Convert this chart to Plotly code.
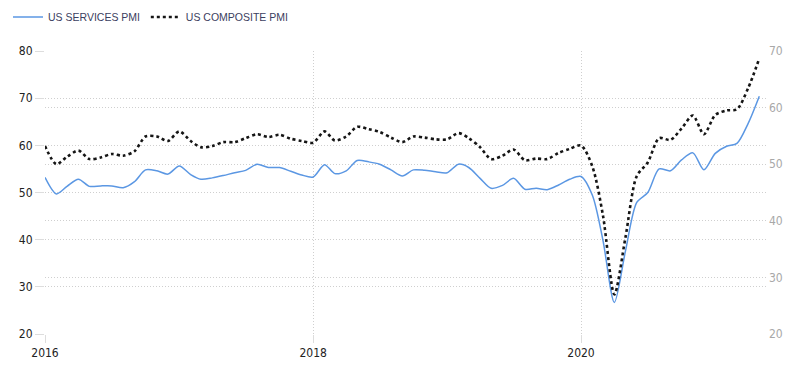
import plotly.graph_objects as go
import pandas as pd

dates = pd.date_range("2016-01-01", "2021-05-01", freq="MS")

services = [
    53.2, 49.7, 51.3, 52.8, 51.3, 51.4, 51.4, 51.0, 52.3, 54.8, 54.6, 53.9,
    55.6, 53.8, 52.8, 53.1, 53.6, 54.2, 54.7, 56.0, 55.3, 55.3, 54.5, 53.7,
    53.3, 55.9, 54.0, 54.6, 56.8, 56.5, 56.0, 54.8, 53.5, 54.8, 54.7, 54.4,
    54.2, 56.0, 55.3, 53.0, 50.9, 51.5, 53.0, 50.7, 50.9, 50.6, 51.6, 52.8,
    53.4, 49.4, 39.8, 26.7, 37.5, 47.9, 50.0, 55.0, 54.6, 56.9, 58.4, 54.8,
    58.3, 59.8, 60.4, 64.7, 70.4,
]

composite = [
    53.2, 50.0, 51.3, 52.4, 50.9, 51.2, 51.8, 51.5, 52.3, 54.9, 54.9, 54.1,
    55.8, 54.1, 53.0, 53.2, 53.9, 53.9, 54.6, 55.3, 54.8, 55.2, 54.5, 54.1,
    53.8, 55.8, 54.2, 54.9, 56.6, 56.2, 55.7, 54.7, 53.9, 54.9, 54.7, 54.4,
    54.4, 55.5, 54.6, 53.0, 50.9, 51.5, 52.6, 50.7, 51.0, 50.9, 52.0, 52.7,
    53.3, 49.6, 40.9, 27.0, 37.0, 47.9, 50.3, 54.6, 54.3, 56.3, 58.6, 55.3,
    58.7, 59.5, 59.7, 63.5, 68.7,
]

left_ticks = [20, 30, 40, 50, 60, 70, 80]
right_ticks = [20, 30, 40, 50, 60, 70]

font_main = "Liberation Sans Narrow, DejaVu Sans Condensed, Arial Narrow, Liberation Sans, sans-serif"
grid = dict(showgrid=True, gridcolor="#cfcfcf", griddash="1px,2px", gridwidth=1)
legend_font = dict(size=10.5, color="#3b4060", family="Liberation Sans, Arial, sans-serif")

fig = go.Figure()
fig.add_trace(go.Scatter(
    x=dates, y=services, name="US SERVICES PMI", mode="lines",
    line=dict(color="#5b97e3", width=1.5, shape="spline", smoothing=0.8),
    yaxis="y", legend="legend",
))
fig.add_trace(go.Scatter(
    x=dates, y=composite, name="US COMPOSITE PMI", mode="lines",
    line=dict(color="#151515", width=2.6, dash="dot", shape="spline", smoothing=0.8),
    yaxis="y2", legend="legend2",
))

fig.update_layout(
    width=792, height=361,
    margin=dict(l=37, r=33, t=43, b=35, autoexpand=False),
    paper_bgcolor="white", plot_bgcolor="white",
    showlegend=True,
    legend=dict(
        orientation="h", xref="container", yref="container",
        x=-0.011, y=0.975, xanchor="left", yanchor="middle",
        font=legend_font, itemwidth=30, bgcolor="rgba(0,0,0,0)",
    ),
    legend2=dict(
        orientation="h", xref="container", yref="container",
        x=0.174, y=0.975, xanchor="left", yanchor="middle",
        font=legend_font, itemwidth=30, bgcolor="rgba(0,0,0,0)",
    ),
    xaxis=dict(
        type="date", automargin=False,
        range=["2016-01-01", "2021-05-22"],
        dtick="M24", tick0="2016-01-01", tickformat="%Y",
        zeroline=False, showline=False,
        ticks="outside", ticklen=8, tickcolor="#dddddd",
        tickfont=dict(size=12, color="#222", family=font_main),
        **grid,
    ),
    yaxis=dict(
        range=[20, 80], tickvals=left_ticks, automargin=False,
        zeroline=False, showline=False,
        ticks="outside", ticklen=9, tickcolor="#dddddd",
        tickfont=dict(size=12, color="#222", family=font_main),
        **grid,
    ),
    yaxis2=dict(
        range=[20, 70], tickvals=right_ticks, overlaying="y", side="right",
        automargin=False, zeroline=False, showline=False,
        ticks="", ticklabelstandoff=1,
        tickfont=dict(size=12, color="#a8a8a8", family=font_main),
        **grid,
    ),
)

fig.write_html("out.html")
